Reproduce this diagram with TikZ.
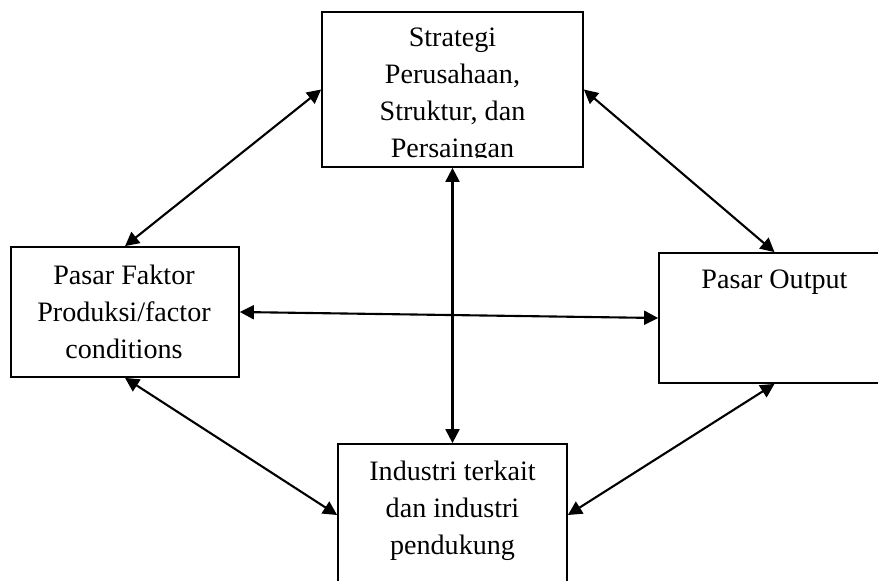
\documentclass[tikz,border=0pt]{standalone}
\usepackage{fontspec}
\setmainfont{Liberation Serif}
\usetikzlibrary{arrows.meta}
\tikzset{
  box/.style={draw, line width=1pt, inner sep=0pt},
  boxtext/.style={anchor=north, align=center, inner sep=0pt, font=\fontsize{16}{21}\selectfont},
  link/.style={{Triangle[length=2.8mm,width=2.8mm]}-{Triangle[length=2.8mm,width=2.8mm]}, line width=1.2pt}
}
\begin{document}
\begin{tikzpicture}
\useasboundingbox (0,0) rectangle (17.56,-11.6);

% Strategi box (top)
\node[box, minimum width=5.22cm, minimum height=3.10cm] (strategi) at (9.05,-1.79) {};
\begin{scope}
\clip (6.44,-0.24) rectangle (11.66,-3.14); % text runs past the box
\node[boxtext] (strategitext) at (9.05,-0.56) {Strategi\\Perusahaan,\\Struktur, dan\\Persaingan};
\end{scope}

% Faktor box (left)
\node[box, minimum width=4.56cm, minimum height=2.60cm] (faktor) at (2.5,-6.24) {};
\node[boxtext] (faktortext) at (2.48,-5.30) {Pasar Faktor\\Produksi/factor\\conditions};

% Output box (right)
\node[box, minimum width=4.62cm, minimum height=2.60cm] (output) at (15.49,-6.36) {};
\node[boxtext] (outputtext) at (15.49,-5.40) {Pasar Output};

% Industri box (bottom)
\node[box, minimum width=4.58cm, minimum height=2.84cm] (industri) at (9.05,-10.30) {};
\node[boxtext] (industritext) at (9.05,-9.22) {Industri terkait\\dan industri\\pendukung};

% Two-way arrows
\draw[link] (strategi.west) -- (faktor.north);
\draw[link] (strategi.east) -- (output.north);
\draw[link] (strategi.south) -- (industri.north);
\draw[link] (faktor.east) -- (output.west);
\draw[link] (faktor.south) -- (industri.west);
\draw[link] (industri.east) -- (output.south);

\end{tikzpicture}
\end{document}
